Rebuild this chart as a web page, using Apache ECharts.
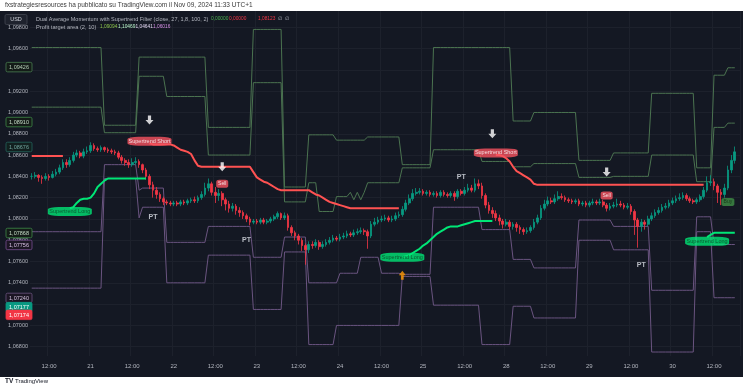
<!DOCTYPE html>
<html><head><meta charset="utf-8">
<script src="https://cdn.jsdelivr.net/npm/echarts@6/dist/echarts.min.js"></script>
<style>html,body{margin:0;padding:0;background:#fff}#c{width:743px;height:390px}</style>
</head><body><div id="c"></div><script>
// ---- time axis ----
const timeTicks = [[5,'12:00'],[17,'21'],[29,'12:00'],[41,'22'],[53,'12:00'],[65,'23'],[77,'12:00'],[89,'24'],[101,'12:00'],[113,'25'],[125,'12:00'],[137,'28'],[149,'12:00'],[161,'29'],[173,'12:00'],[185,'30'],[197,'12:00']];
const barCount = 205;
// ---- hourly candles ----
const opens = [1.0840,1.0840,1.0841,1.0839,1.0838,1.0840,1.0839,1.0842,1.0844,1.0848,
1.0853,1.0851,1.0855,1.0860,1.0862,1.0859,1.0863,1.0864,1.0869,1.0866,
1.0865,1.0867,1.0865,1.0864,1.0863,1.0862,1.0858,1.0855,1.0853,1.0851,
1.0853,1.0854,1.0851,1.0846,1.0840,1.0832,1.0827,1.0823,1.0819,1.0816,
1.0815,1.0814,1.0815,1.0814,1.0816,1.0815,1.0817,1.0818,1.0817,1.0820,
1.0823,1.0829,1.0833,1.0825,1.0822,1.0824,1.0818,1.0814,1.0810,1.0812,
1.0808,1.0806,1.0803,1.0800,1.0797,1.0798,1.0797,1.0799,1.0797,1.0798,
1.0800,1.0802,1.0805,1.0801,1.0803,1.0792,1.0787,1.0784,1.0780,1.0775,
1.0771,1.0776,1.0775,1.0778,1.0774,1.0776,1.0778,1.0780,1.0782,1.0781,
1.0783,1.0784,1.0786,1.0785,1.0787,1.0788,1.0789,1.0788,1.0784,1.0795,
1.0797,1.0799,1.0800,1.0801,1.0799,1.0800,1.0803,1.0804,1.0809,1.0815,
1.0819,1.0824,1.0825,1.0826,1.0824,1.0825,1.0823,1.0824,1.0822,1.0825,
1.0823,1.0822,1.0824,1.0821,1.0826,1.0824,1.0827,1.0829,1.0827,1.0833,
1.0831,1.0822,1.0813,1.0808,1.0805,1.0801,1.0798,1.0795,1.0797,1.0793,
1.0795,1.0792,1.0790,1.0788,1.0789,1.0792,1.0797,1.0801,1.0810,1.0814,
1.0817,1.0816,1.0819,1.0821,1.0820,1.0818,1.0817,1.0816,1.0817,1.0814,
1.0815,1.0813,1.0815,1.0816,1.0815,1.0816,1.0813,1.0810,1.0812,1.0813,
1.0814,1.0813,1.0811,1.0812,1.0807,1.0799,1.0793,1.0797,1.0795,1.0800,
1.0803,1.0806,1.0808,1.0811,1.0812,1.0815,1.0817,1.0819,1.0820,1.0822,
1.0819,1.0817,1.0816,1.0818,1.0821,1.0827,1.0834,1.0835,1.0831,1.0825,
1.0823,1.0829,1.0846,1.0855];
const closes = [1.0840,1.0841,1.0839,1.0838,1.0840,1.0839,1.0842,1.0844,1.0848,1.0853,
1.0851,1.0855,1.0860,1.0862,1.0859,1.0863,1.0864,1.0869,1.0866,1.0865,
1.0867,1.0865,1.0864,1.0863,1.0862,1.0858,1.0855,1.0853,1.0851,1.0853,
1.0854,1.0851,1.0846,1.0840,1.0832,1.0827,1.0823,1.0819,1.0816,1.0815,
1.0814,1.0815,1.0814,1.0816,1.0815,1.0817,1.0818,1.0817,1.0820,1.0823,
1.0829,1.0833,1.0825,1.0822,1.0824,1.0818,1.0814,1.0810,1.0812,1.0808,
1.0806,1.0803,1.0800,1.0797,1.0798,1.0797,1.0799,1.0797,1.0798,1.0800,
1.0802,1.0805,1.0801,1.0803,1.0792,1.0787,1.0784,1.0780,1.0775,1.0771,
1.0776,1.0775,1.0778,1.0774,1.0776,1.0778,1.0780,1.0782,1.0781,1.0783,
1.0784,1.0786,1.0785,1.0787,1.0788,1.0789,1.0788,1.0784,1.0795,1.0797,
1.0799,1.0800,1.0801,1.0799,1.0800,1.0803,1.0804,1.0809,1.0815,1.0819,
1.0824,1.0825,1.0826,1.0824,1.0825,1.0823,1.0824,1.0822,1.0825,1.0823,
1.0822,1.0824,1.0821,1.0826,1.0824,1.0827,1.0829,1.0827,1.0833,1.0831,
1.0822,1.0813,1.0808,1.0805,1.0801,1.0798,1.0795,1.0797,1.0793,1.0795,
1.0792,1.0790,1.0788,1.0789,1.0792,1.0797,1.0801,1.0810,1.0814,1.0817,
1.0816,1.0819,1.0821,1.0820,1.0818,1.0817,1.0816,1.0817,1.0814,1.0815,
1.0813,1.0815,1.0816,1.0815,1.0816,1.0813,1.0810,1.0812,1.0813,1.0814,
1.0813,1.0811,1.0812,1.0807,1.0799,1.0793,1.0797,1.0795,1.0800,1.0803,
1.0806,1.0808,1.0811,1.0812,1.0815,1.0817,1.0819,1.0820,1.0822,1.0819,
1.0817,1.0816,1.0818,1.0821,1.0827,1.0834,1.0835,1.0831,1.0825,1.0823,
1.0829,1.0846,1.0855,1.0863];
const highs = [1.0843,1.0844,1.0842,1.0841,1.0843,1.0842,1.0845,1.0847,1.0851,1.0856,
1.0856,1.0858,1.0863,1.0865,1.0864,1.0866,1.0868,1.0872,1.0871,1.0868,
1.0869,1.0868,1.0867,1.0866,1.0865,1.0864,1.0860,1.0857,1.0856,1.0857,
1.0858,1.0856,1.0852,1.0848,1.0842,1.0835,1.0830,1.0825,1.0821,1.0818,
1.0817,1.0817,1.0817,1.0818,1.0818,1.0819,1.0820,1.0821,1.0822,1.0826,
1.0834,1.0838,1.0835,1.0830,1.0828,1.0826,1.0820,1.0817,1.0815,1.0814,
1.0811,1.0808,1.0805,1.0802,1.0800,1.0800,1.0801,1.0801,1.0800,1.0802,
1.0804,1.0807,1.0806,1.0806,1.0805,1.0794,1.0789,1.0786,1.0782,1.0777,
1.0779,1.0779,1.0781,1.0780,1.0779,1.0781,1.0783,1.0785,1.0784,1.0786,
1.0787,1.0789,1.0788,1.0790,1.0791,1.0792,1.0791,1.0790,1.0798,1.0801,
1.0802,1.0803,1.0804,1.0803,1.0803,1.0806,1.0807,1.0812,1.0818,1.0823,
1.0828,1.0829,1.0829,1.0828,1.0827,1.0827,1.0826,1.0826,1.0827,1.0827,
1.0825,1.0826,1.0826,1.0828,1.0828,1.0830,1.0833,1.0832,1.0838,1.0837,
1.0834,1.0824,1.0816,1.0811,1.0808,1.0804,1.0800,1.0800,1.0799,1.0797,
1.0797,1.0794,1.0792,1.0792,1.0794,1.0800,1.0804,1.0813,1.0818,1.0821,
1.0820,1.0823,1.0826,1.0824,1.0822,1.0820,1.0819,1.0819,1.0819,1.0817,
1.0817,1.0817,1.0819,1.0818,1.0819,1.0818,1.0815,1.0815,1.0816,1.0819,
1.0817,1.0815,1.0815,1.0814,1.0809,1.0801,1.0800,1.0799,1.0803,1.0806,
1.0809,1.0811,1.0814,1.0815,1.0818,1.0820,1.0822,1.0824,1.0825,1.0824,
1.0821,1.0819,1.0820,1.0823,1.0830,1.0840,1.0841,1.0838,1.0833,1.0828,
1.0833,1.0850,1.0860,1.0868];
const lows = [1.0837,1.0838,1.0835,1.0833,1.0836,1.0836,1.0838,1.0840,1.0842,1.0846,
1.0848,1.0849,1.0853,1.0858,1.0857,1.0857,1.0861,1.0862,1.0864,1.0863,
1.0863,1.0863,1.0862,1.0861,1.0860,1.0856,1.0852,1.0850,1.0848,1.0849,
1.0851,1.0848,1.0843,1.0837,1.0828,1.0820,1.0819,1.0816,1.0813,1.0813,
1.0812,1.0812,1.0812,1.0812,1.0813,1.0813,1.0815,1.0815,1.0815,1.0818,
1.0821,1.0826,1.0822,1.0815,1.0817,1.0812,1.0808,1.0806,1.0807,1.0804,
1.0802,1.0800,1.0797,1.0794,1.0795,1.0795,1.0795,1.0795,1.0795,1.0796,
1.0798,1.0800,1.0799,1.0799,1.0789,1.0784,1.0780,1.0776,1.0770,1.0757,
1.0768,1.0772,1.0773,1.0771,1.0772,1.0774,1.0776,1.0778,1.0779,1.0779,
1.0781,1.0782,1.0783,1.0783,1.0785,1.0786,1.0785,1.0772,1.0782,1.0793,
1.0795,1.0797,1.0798,1.0797,1.0797,1.0798,1.0801,1.0802,1.0807,1.0813,
1.0817,1.0822,1.0823,1.0822,1.0822,1.0821,1.0821,1.0820,1.0820,1.0821,
1.0820,1.0820,1.0817,1.0819,1.0822,1.0822,1.0825,1.0825,1.0825,1.0828,
1.0819,1.0810,1.0805,1.0801,1.0798,1.0794,1.0791,1.0793,1.0790,1.0790,
1.0788,1.0786,1.0785,1.0786,1.0787,1.0790,1.0795,1.0799,1.0808,1.0812,
1.0814,1.0814,1.0817,1.0818,1.0816,1.0815,1.0814,1.0814,1.0812,1.0812,
1.0811,1.0811,1.0813,1.0813,1.0813,1.0811,1.0807,1.0808,1.0810,1.0811,
1.0811,1.0809,1.0809,1.0804,1.0785,1.0773,1.0788,1.0790,1.0793,1.0798,
1.0801,1.0804,1.0806,1.0809,1.0810,1.0813,1.0815,1.0817,1.0818,1.0817,
1.0815,1.0814,1.0814,1.0816,1.0819,1.0825,1.0831,1.0827,1.0815,1.0813,
1.0820,1.0827,1.0843,1.0852];
// ---- Supertrend segments: [first bar, values...] ----
const stShortSegments = [
 [0, [1.0859,1.0859,1.0859,1.0859,1.0859,1.0859,1.0859,1.0859,1.0859,1.0859]],
 [34,[1.0871,1.0870,1.0870,1.0870,1.0870,1.0870,1.0870,1.0869,1.0867,1.0865,1.0864,1.0863,1.0861,1.0855,1.0850,
      1.0849,1.0849,1.0849,1.0849,1.0849,1.0849,1.0849,1.0849,1.0849,1.0849,1.0849,1.0849,1.0849,1.0849,1.0849,
      1.0844,1.0839,1.0837,1.0835,1.0834,1.0832,1.0830,1.0828,
      1.0827,1.0827,1.0827,1.0827,1.0827,1.0827,1.0827,1.0827,1.0827,
      1.0825,1.0823,1.0822,1.0820,1.0818,1.0816,1.0815,1.0814,1.0813,1.0812,1.0811,
      1.0810,1.0810,1.0810,1.0810,1.0810,1.0810,1.0810,1.0810,1.0810,1.0810,1.0810,1.0810,1.0810,1.0810,1.0810]],
 [134,[1.0860,1.0860,1.0859,1.0857,1.0854,1.0849,1.0845,1.0843,1.0841,1.0839,1.0837,1.0833,
      1.0832,1.0832,1.0832,1.0832,1.0832,1.0832,1.0832,1.0832,1.0832,1.0832,1.0832,1.0832,1.0832,1.0832,1.0832,
      1.0832,1.0832,1.0832,1.0832,1.0832,1.0832,1.0832,1.0832,1.0832,1.0832,1.0832,1.0832,1.0832,1.0832,1.0832,
      1.0832,1.0832,1.0832,1.0832,1.0832,1.0832,1.0832,1.0832,1.0832,1.0832,1.0832,1.0832,1.0832,1.0832,1.0832,
      1.0832,1.0832,1.0832,1.0832]]
];
const stLongSegments = [
 [11,[1.0810,1.0811,1.0815,1.0818,1.0819,1.0819,1.0820,1.0824,1.0830,1.0833,1.0836,
      1.0838,1.0838,1.0838,1.0838,1.0838,1.0838,1.0838,1.0838,1.0838,1.0838,1.0838,1.0838]],
 [107,[1.0764,1.0765,1.0766,1.0768,1.0770,1.0772,1.0775,1.0777,1.0780,1.0783,1.0786,1.0788,1.0790,1.0792,
      1.0793,1.0793,1.0793,1.0794,1.0795,1.0796,1.0797,1.0798,1.0798,1.0798,1.0798,1.0798,1.0798]],
 [195,[1.0783,1.0785,1.0787,1.0787,1.0787,1.0787,1.0787,1.0787,1.0787]]
];
// ---- Profit target area, step runs: [first bar, last bar, level] ----
const ptUpperOuter = [[0,20,1.0961],[21,30,1.0888],[31,50,1.0952],[51,63,1.0886],[64,72,1.0978],[73,79,1.0830],
 [80,87,1.0879],[88,96,1.0874],[97,106,1.0877],[107,115,1.0851],[116,138,1.0961],[139,144,1.0892],
 [145,157,1.0900],[158,167,1.0855],[168,178,1.0862],[179,191,1.0918],[192,196,1.0848],[197,200,1.0935],[201,203,1.0942]];
const ptUpperInner = [[0,20,1.0905],[21,30,1.0881],[31,38,1.0934],[39,50,1.0915],[51,63,1.0860],[64,72,1.0928],
 [73,79,1.0816],[80,82,1.0834],[83,87,1.0807],[88,91,1.0821],[92,92,1.0825],[93,93,1.0818],[94,94,1.0825],[95,95,1.0818],
 [96,96,1.0825],[97,106,1.0834],[107,115,1.0848],[116,129,1.0865],[130,138,1.0854],[139,144,1.0849],[145,157,1.0852],
 [158,167,1.0839],[168,178,1.0840],[179,191,1.0860],[192,196,1.0835],[197,200,1.0886],[201,203,1.0890]];
const ptLowerInner = [[0,20,1.0788],[21,30,1.0851],[31,31,1.0827],[32,38,1.0829],[39,50,1.0778],[51,63,1.0793],
 [64,72,1.0764],[73,79,1.0783],[80,88,1.0740],[89,94,1.0749],[95,100,1.0764],[101,106,1.0749],[107,115,1.0748],
 [116,129,1.0811],[130,138,1.0790],[139,144,1.0762],[145,157,1.0754],[158,167,1.0799],[168,178,1.0793],
 [179,191,1.0733],[192,196,1.0802],[197,203,1.0776]];
const ptLowerOuter = [[0,20,1.0735],[21,30,1.0838],[31,31,1.0801],[32,38,1.0811],[39,50,1.0740],[51,63,1.0766],
 [64,72,1.0715],[73,79,1.0769],[80,87,1.0682],[88,106,1.0700],[107,115,1.0746],[116,129,1.0719],[130,138,1.0682],
 [139,144,1.0718],[145,157,1.0707],[158,167,1.0780],[168,178,1.0771],[179,191,1.0675],[192,196,1.0788],[197,203,1.0726]];
// ---- signals [bar, price] ----
const stShortLabels = [[34,1.0873],[134,1.0862]];
const stLongLabels = [[11,1.0807],[107,1.0764],[195,1.0779]];
const sellLabels = [[55,1.0833],[166,1.0822]];
const buyLabels = [[201,1.0816]];
const ptLabels = [[35,1.0802],[62,1.0780],[124,1.0839],[176,1.0757]];
const downArrows = [[34,1.0893],[55,1.0849],[133,1.0880],[166,1.0844]];
const upArrows = [[107,1.0747]];
// ---- price scale badges ----
const badgeValues = ['1,09426','1,08910','1,08676','1,07868','1,07756','1,07240','1,07177','1,07174'];
const badgeLevels = [1.09426,1.08910,1.08676,1.07868,1.07756,1.07258,1.07172,1.07099];
const badgeStyles = [
 {bg:'#141c18',bd:'#4a7d50',fg:'#b5cdb6'},{bg:'#141c18',bd:'#3f8a47',fg:'#c6dcc7'},
 {bg:'#12201f',bd:'#25645d',fg:'#6fa39c'},{bg:'#141c18',bd:'#3f8a47',fg:'#c6dcc7'},
 {bg:'#1c1624',bd:'#7a4f93',fg:'#d8bfe3'},{bg:'#1c1624',bd:'#6c5480',fg:'#cfc0da'},
 {bg:'#089981',bd:'#089981',fg:'#ffffff'},{bg:'#f23645',bd:'#f23645',fg:'#ffffff'}];

const BG = '#141823';
const FONT = 'Liberation Sans, Arial, sans-serif';
const categories = [];
for (let i = 0; i < barCount; i++) categories.push(String(i));
const tickMap = {}; timeTicks.forEach(t => tickMap[t[0]] = t[1]);
function fromSegments(segs){
  const arr = new Array(barCount).fill(null);
  segs.forEach(s => s[1].forEach((v,k) => arr[s[0]+k] = v));
  return arr;
}
function fromRuns(runs){
  const arr = new Array(barCount).fill(null);
  runs.forEach(r => { for (let k = r[0]; k <= r[1]; k++) arr[k] = r[2]; });
  return arr;
}
const candleData = opens.map((o,i) => [o, closes[i], lows[i], highs[i]]);
const ptLine = (runs, color) => ({type:'line', data:fromRuns(runs), symbol:'none', z:1, silent:true,
  lineStyle:{color:color, width:1}});

const chart = echarts.init(document.getElementById('c'), null, {renderer:'canvas'});
const labelBase = {show:true, position:'inside', fontFamily:FONT, fontSize:5.5};
const txt = (x, y, text, fill, size, extra) => Object.assign({type:'text', x:x, y:y, z:53,
  style:Object.assign({text:text, fill:fill, fontSize:size, fontFamily:FONT, verticalAlign:'middle'}, extra||{})});
const baseGraphics = [
  {type:'rect', shape:{x:0,y:356,width:743,height:21}, style:{fill:BG}, z:50},
  {type:'rect', shape:{x:0,y:0,width:743,height:11}, style:{fill:'#ffffff'}, z:50},
  {type:'rect', shape:{x:0,y:377,width:743,height:13}, style:{fill:'#ffffff'}, z:50},
  txt(5, 5.5, 'fxstrategiesresources ha pubblicato su TradingView.com il Nov 09, 2024 11:33 UTC+1', '#3a3a3a', 6.5),
  txt(5, 381.5, 'TV', '#131722', 6.5, {fontWeight:'bold'}),
  txt(15, 381.5, 'TradingView', '#131722', 6),
  {type:'rect', shape:{x:5,y:14.5,width:22,height:10,r:1.5}, style:{fill:'#1e222d', stroke:'#434651', lineWidth:0.8}, z:52},
  txt(16, 19.5, 'USD', '#d1d4dc', 5.5, {align:'center'}),
  txt(36, 19, 'Dual Average Momentum with Supertrend Filter (close, 27, 1,8, 100, 2)', '#b2b5be', 5.5),
  txt(211, 19, '0,00000', '#4caf50', 4.8),
  txt(229, 19, '0,00000', '#f23645', 4.8),
  txt(258, 19, '1,08123', '#f23645', 4.8),
  txt(278, 19, '\u2205  \u2205', '#b2b5be', 5),
  txt(36, 27, 'Profit target area (2, 10)', '#b2b5be', 5.7),
  txt(100, 27, '1,09094', '#8bc34a', 4.8),
  txt(118, 27, '1,10469', '#b9f6ca', 4.8),
  txt(135.5, 27, '1,04641', '#e1d5f0', 4.8),
  txt(153, 27, '1,06016', '#d68fe6', 4.8)
];
chart.setOption({
  animation:false,
  backgroundColor: BG,
  grid:{left:30, right:3, top:6, height:362},
  xAxis:[
    {type:'category', data:categories, boundaryGap:true,
     axisLine:{show:false}, axisTick:{show:false}, axisLabel:{show:false},
     splitLine:{show:true, interval:(i)=>tickMap[i]!==undefined, lineStyle:{color:'#1d212c', width:1}}},
    {type:'category', data:categories, boundaryGap:true, position:'bottom', offset:-12, z:100,
     axisLine:{show:false}, axisTick:{show:false}, splitLine:{show:false},
     axisLabel:{interval:(i)=>tickMap[i]!==undefined, formatter:(v,i)=>tickMap[i]||'', margin:7,
       color:'#b2b5be', fontSize:6, fontFamily:FONT}}
  ],
  yAxis:{type:'value', min:1.066, max:1.100, interval:0.002, position:'left',
    axisLine:{show:false}, axisTick:{show:false},
    axisLabel:{margin:2, color:'#b2b5be', fontSize:5.5, fontFamily:FONT,
      formatter:v => (v < 1.0665 || v > 1.0995) ? '' : v.toFixed(5).replace('.',',')},
    splitLine:{lineStyle:{color:'#1d212c', width:1}}},
  series:[
    ptLine(ptUpperOuter, '#4b7350'),
    ptLine(ptUpperInner, '#4b7350'),
    ptLine(ptLowerInner, '#6a5480'),
    ptLine(ptLowerOuter, '#6a5480'),
    {type:'candlestick', data:candleData, barWidth:2.2, z:2,
     itemStyle:{color:'#089981', color0:'#f23645', borderColor:'#089981', borderColor0:'#f23645', borderWidth:0.8}},
    {type:'line', data:fromSegments(stShortSegments), symbol:'none', connectNulls:false, z:3,
     lineStyle:{color:'#ff5252', width:2}},
    {type:'line', data:fromSegments(stLongSegments), symbol:'none', connectNulls:false, z:3,
     lineStyle:{color:'#00e676', width:2}},
    {type:'scatter', data:stShortLabels, symbol:'roundRect', symbolSize:[44,9], z:6,
     itemStyle:{color:'#f7525f'}, label:Object.assign({}, labelBase, {formatter:'Supertrend Short', color:'#ffffff'})},
    {type:'scatter', data:stLongLabels, symbol:'roundRect', symbolSize:[44,9], z:6,
     itemStyle:{color:'#00e676'}, label:Object.assign({}, labelBase, {formatter:'Supertrend Long', color:'#0d3d22'})},
    {type:'scatter', data:sellLabels, symbol:'roundRect', symbolSize:[12,8], z:6,
     itemStyle:{color:'#f7525f'}, label:Object.assign({}, labelBase, {formatter:'Sell', color:'#ffffff', fontSize:5})},
    {type:'scatter', data:buyLabels, symbol:'roundRect', symbolSize:[13,8], z:6,
     itemStyle:{color:'#3e8e45'}, label:Object.assign({}, labelBase, {formatter:'Buy', color:'#0f2a12', fontSize:5})},
    {type:'scatter', data:ptLabels, symbol:'circle', symbolSize:0, z:6,
     label:Object.assign({}, labelBase, {formatter:'PT', color:'#e0e3eb', fontSize:7, fontWeight:'bold'})},
    {type:'scatter', data:downArrows, symbol:'path://M3,0H7V5H10L5,10L0,5H3Z', symbolSize:[8,9], z:6,
     itemStyle:{color:'#ffffff'}},
    {type:'scatter', data:upArrows, symbol:'path://M5,0L10,5H7V10H3V5H0Z', symbolSize:[7,9], z:6,
     itemStyle:{color:'#ff9800'}}
  ],
  graphic: baseGraphics
});
// price-scale badges placed through the y scale
const badgeGraphics = [];
badgeLevels.forEach((lv, k) => {
  const y = chart.convertToPixel({yAxisIndex:0}, lv);
  const st = badgeStyles[k];
  badgeGraphics.push({type:'rect', z:60, shape:{x:6, y:y-4.75, width:26, height:9.5, r:1.5},
    style:{fill:st.bg, stroke:st.bd, lineWidth:0.8}});
  badgeGraphics.push({type:'text', z:61, x:19, y:y+0.3,
    style:{text:badgeValues[k], fill:st.fg, fontSize:5.5, fontFamily:FONT, align:'center', verticalAlign:'middle'}});
});
chart.setOption({graphic: baseGraphics.concat(badgeGraphics)});
</script></body></html>
